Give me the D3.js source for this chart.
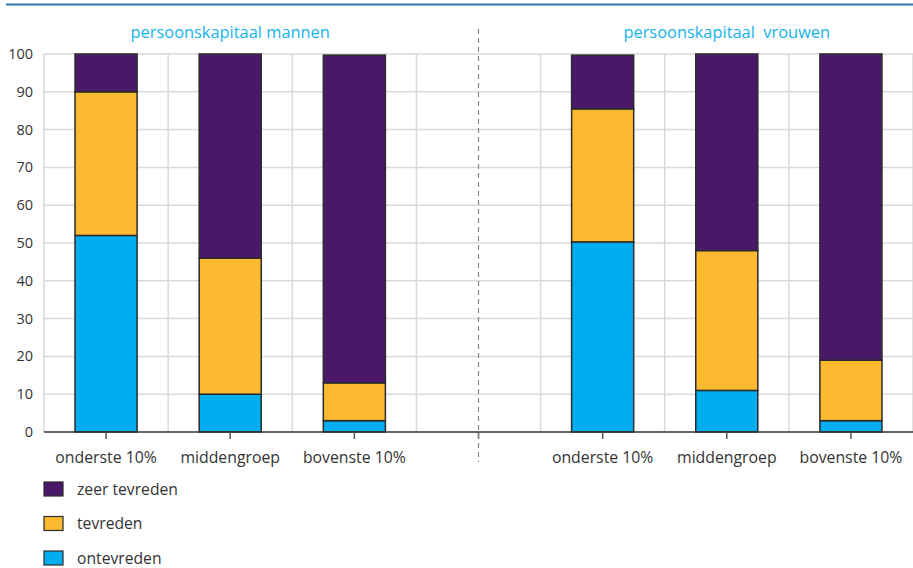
<!DOCTYPE html>
<html><head><meta charset="utf-8">
<script src="https://cdn.jsdelivr.net/npm/d3@7"></script>
<style>
html,body{margin:0;padding:0;background:#fff;}
svg{display:block;font-family:"Open Sans","Noto Sans",sans-serif;}
</style></head>
<body>
<svg id="chart" width="913" height="568"></svg>
<script>
// ---- data ----
const slots = ["m-onderste","m-midden","m-bovenste","divider","v-onderste","v-midden","v-bovenste"];
const slotLabels = ["onderste 10%","middengroep","bovenste 10%","","onderste 10%","middengroep","bovenste 10%"];
const panelTitles = ["persoonskapitaal mannen","persoonskapitaal  vrouwen"];
const seriesNames = ["ontevreden","tevreden","zeer tevreden"];
const ontevreden   = [52, 10, 3, null, 50.3, 11, 3];
const tevreden     = [38, 36, 10, null, 35.2, 37, 16];
const zeerTevreden = [10, 54, 86.7, null, 14.2, 52, 81];
const yTicks = [0,10,20,30,40,50,60,70,80,90,100];
const colors = {"ontevreden":"#00aeef","tevreden":"#fbba30","zeer tevreden":"#4a1868"};

// ---- layout ----
const svg = d3.select("#chart");
const pLeft = 44, pRight = 913, pTop = 54, pBottom = 432;
const x = d3.scaleBand().domain(slots).range([pLeft, pRight]).paddingInner(0).paddingOuter(0);
const y = d3.scaleLinear().domain([0,100]).range([pBottom, pTop]);

// top rule
svg.append("line").attr("x1",6).attr("x2",913).attr("y1",4.5).attr("y2",4.5)
  .attr("stroke","#2c79b0").attr("stroke-width",2);

// horizontal grid
svg.append("g").selectAll("line").data(yTicks.filter(d=>d>0)).join("line")
  .attr("x1",pLeft).attr("x2",pRight).attr("y1",d=>y(d)).attr("y2",d=>y(d))
  .attr("stroke","#d9d9d9").attr("stroke-width",1.5);
// vertical grid at band boundaries
const bounds = slots.map(s=>x(s)).concat([pRight]);
svg.append("g").selectAll("line").data(bounds).join("line")
  .attr("x1",d=>d).attr("x2",d=>d).attr("y1",pTop).attr("y2",pBottom)
  .attr("stroke","#d9d9d9").attr("stroke-width",1.5);

// y tick labels
svg.append("g").selectAll("text").data(yTicks).join("text")
  .attr("x",33).attr("y",d=>y(d)+5).attr("text-anchor","end")
  .attr("font-size",14.5).attr("fill","#333").text(d=>d);

// stacked bars
const rows = slots.map((s,i)=>({slot:s, "ontevreden":ontevreden[i], "tevreden":tevreden[i], "zeer tevreden":zeerTevreden[i]}))
  .filter(r=>r.ontevreden!==null);
const stack = d3.stack().keys(seriesNames)(rows);
const bw = x.bandwidth();
svg.append("g").selectAll("g").data(stack).join("g")
  .attr("fill",d=>colors[d.key])
  .selectAll("rect").data(d=>d).join("rect")
  .attr("x",d=>x(d.data.slot)+bw*0.25).attr("width",bw*0.5)
  .attr("y",d=>y(d[1])).attr("height",d=>y(d[0])-y(d[1]))
  .attr("stroke","#2b2b2b").attr("stroke-width",1.5);

// x axis
const xAxis = svg.append("g").attr("transform",`translate(0,${pBottom})`)
  .call(d3.axisBottom(x).tickSize(7).tickFormat((d,i)=>slotLabels[i]));
xAxis.select(".domain").attr("d",`M${pLeft},0H${pRight}`).attr("stroke","#333").attr("stroke-width",1.5);
xAxis.selectAll(".tick line").attr("stroke","#555").attr("stroke-width",1.5);
xAxis.selectAll(".tick text").attr("font-size",15.8).attr("fill","#333").attr("dy","1.35em")
  .attr("font-family","'Open Sans','Noto Sans',sans-serif");

// divider
const divX = x("divider") + bw/2;
svg.append("line").attr("x1",divX).attr("x2",divX).attr("y1",29).attr("y2",462)
  .attr("stroke","#888").attr("stroke-width",1.2).attr("stroke-dasharray","5,4");

// panel titles
const panelCenters = [(x("m-onderste")+x("m-bovenste")+bw)/2, (x("v-onderste")+x("v-bovenste")+bw)/2];
svg.append("g").selectAll("text").data(panelTitles).join("text")
  .attr("x",(d,i)=>panelCenters[i]).attr("y",38).attr("text-anchor","middle")
  .attr("font-size",16.4).attr("fill","#16b2ee").style("white-space","pre").text(d=>d);

// legend
const legendItems = ["zeer tevreden","tevreden","ontevreden"];
const lg = svg.append("g").selectAll("g").data(legendItems).join("g")
  .attr("transform",(d,i)=>`translate(44,${482+i*34.5})`);
lg.append("rect").attr("width",19).attr("height",14).attr("fill",d=>colors[d])
  .attr("stroke","#2b2b2b").attr("stroke-width",1.2);
lg.append("text").attr("x",33).attr("y",12.5).attr("font-size",15.7).attr("fill","#333").text(d=>d);
</script>
</body></html>
